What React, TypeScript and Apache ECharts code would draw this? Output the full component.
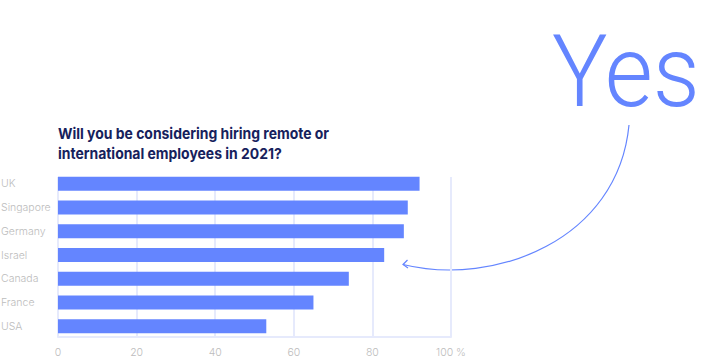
import React, { useEffect, useRef } from "react";
import * as echarts from "echarts";

const categories = ["UK", "Singapore", "Germany", "Israel", "Canada", "France", "USA"];
const values = [92, 89, 88, 83, 74, 65, 53];
const xTicks = [0, 20, 40, 60, 80, 100];
const titleLines = ["Will you be considering hiring remote or", "international employees in 2021?"];
const bigWord = "Yes";

const BLUE = "#6485ff";
const LABEL = "#bcbcbc";

export default function App() {
  const ref = useRef<HTMLDivElement>(null);
  useEffect(() => {
    if (!ref.current) return;
    const chart = echarts.init(ref.current, null, { renderer: "svg" });
    chart.setOption({
      animation: false,
      backgroundColor: "#ffffff",
      grid: [
        { left: 58, top: 172, width: 393, height: 166, outerBoundsMode: "none", containLabel: false },
        { left: 58, top: 177, width: 393, height: 160, outerBoundsMode: "none", containLabel: false },
      ],
      xAxis: [
        { gridIndex: 0, type: "value", min: 0, max: 100, show: false },
        {
          gridIndex: 1,
          type: "value",
          min: xTicks[0],
          max: xTicks[xTicks.length - 1],
          interval: 20,
          axisLine: { show: true, lineStyle: { color: "#e6eafc", width: 2 } },
          axisTick: { show: false },
          splitLine: { show: true, lineStyle: { color: "#e6eafc", width: 2 } },
          axisLabel: {
            color: LABEL,
            fontFamily: "Inter",
            fontWeight: 300,
            fontSize: 10.5,
            margin: 10,
            formatter: (v: number) => (v === 100 ? "100 %" : String(v)),
          },
        },
      ],
      yAxis: [
        {
          gridIndex: 0,
          type: "category",
          data: categories,
          inverse: true,
          axisLine: { show: false },
          axisTick: { show: false },
          axisLabel: {
            color: LABEL,
            fontFamily: "Inter",
            fontWeight: 300,
            fontSize: 10.5,
            align: "left",
            margin: 57,
          },
        },
        { gridIndex: 1, type: "value", min: 0, max: 1, show: false },
      ],
      series: [
        {
          type: "bar",
          xAxisIndex: 0,
          yAxisIndex: 0,
          data: values,
          barWidth: 14,
          itemStyle: { color: BLUE },
          z: 5,
        },
      ],
      graphic: [
        {
          type: "text",
          x: 58,
          y: 123,
          scaleX: 0.93,
          style: {
            text: titleLines.join("\n"),
            fontFamily: "Inter",
            fontWeight: "bold",
            fontSize: 15,
            lineHeight: 20,
            fill: "#16215c",
          },
        },
        {
          type: "text",
          x: 552,
          y: 21,
          scaleX: 0.92,
          style: {
            text: bigWord,
            fontFamily: "Roboto",
            fontWeight: 300,
            fontSize: 101,
            fill: BLUE,
          },
        },
        {
          type: "bezierCurve",
          shape: { x1: 629, y1: 125, cpx1: 618, cpy1: 240, cpx2: 495, cpy2: 287, x2: 403, y2: 264.5 },
          style: { stroke: BLUE, lineWidth: 1.2, fill: null },
        },
        {
          type: "polyline",
          shape: { points: [[407.5, 260], [403, 264.5], [408, 268]] },
          style: { stroke: BLUE, lineWidth: 1.2, fill: null },
        },
      ],
    });
    return () => chart.dispose();
  }, []);
  return (
    <div
      ref={ref}
      style={{ position: "fixed", left: 0, top: 0, width: 722, height: 358 }}
    />
  );
}
